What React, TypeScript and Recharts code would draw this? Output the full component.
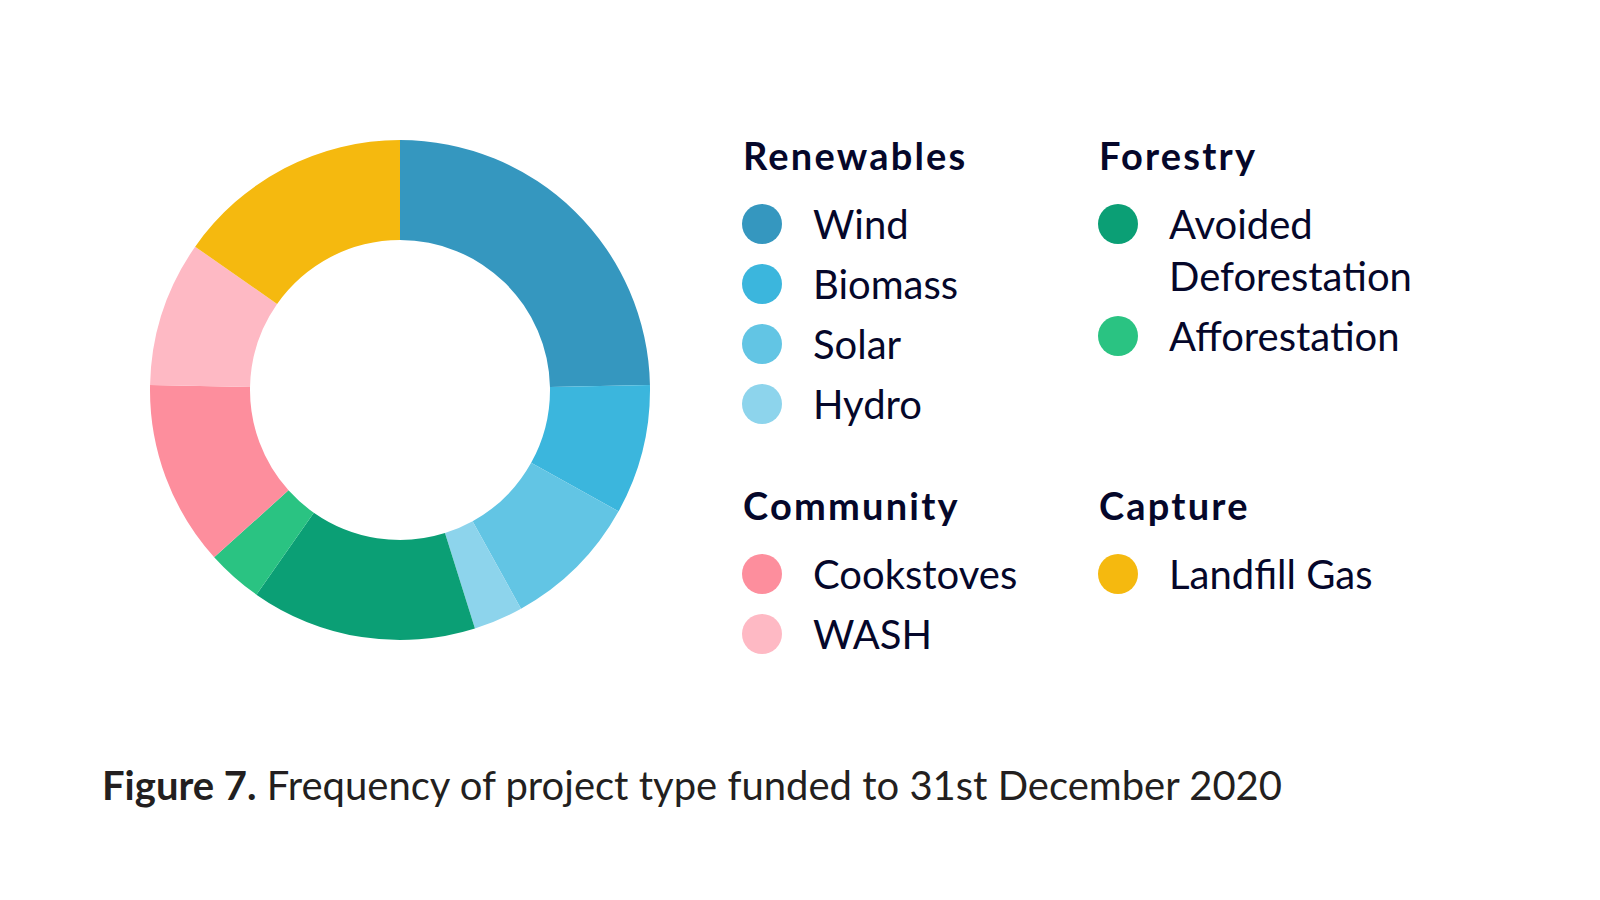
import React from 'react';
import { PieChart, Pie, Cell } from 'recharts';

const categories = ['Wind', 'Biomass', 'Solar', 'Hydro', 'Avoided Deforestation', 'Afforestation', 'Cookstoves', 'WASH', 'Landfill Gas'];
const values = [24.7, 8.4, 8.9, 3.2, 14.6, 3.6, 12.0, 9.4, 15.3];
const groupOf = ['Renewables', 'Renewables', 'Renewables', 'Renewables', 'Forestry', 'Forestry', 'Community', 'Community', 'Capture'];
const colors = ['#3597bf', '#3bb6dd', '#62c5e4', '#8dd4ec', '#0b9f75', '#2ac382', '#fd8e9d', '#feb9c4', '#f5b90f'];
const groupNames = ['Renewables', 'Forestry', 'Community', 'Capture'];
const caption = ['Figure 7.', ' Frequency of project type funded to 31st December 2020'];

const data = categories.map((name, i) => ({ name, value: values[i], group: groupOf[i], color: colors[i] }));

const FONT = 'Lato, "Noto Sans", sans-serif';
const INK = '#05072a';

const groupPos: Record<string, { x: number; y: number }> = {
  Renewables: { x: 743, y: 170 },
  Forestry: { x: 1099, y: 170 },
  Community: { x: 743, y: 520 },
  Capture: { x: 1099, y: 520 },
};

function splitLabel(label: string): string[] {
  if (label.length > 14) return label.split(' ');
  return [label];
}

function LegendOverlay() {
  const out: React.ReactNode[] = [];
  groupNames.forEach((g) => {
    const p = groupPos[g];
    out.push(
      <text key={'h' + g} x={p.x} y={p.y} fontFamily={FONT} fontWeight={700} fontSize={38} letterSpacing={2.2} fill={INK}>
        {g}
      </text>
    );
    let baseline = p.y + 69;
    data.filter((d) => d.group === g).forEach((d) => {
      const lines = splitLabel(d.name);
      out.push(<circle key={'c' + d.name} cx={p.x + 19} cy={baseline - 15} r={20} fill={d.color} />);
      lines.forEach((ln, li) => {
        out.push(
          <text key={'t' + d.name + li} x={p.x + 70} y={baseline + li * 52} fontFamily={FONT} fontSize={40} fill={INK}>
            {ln}
          </text>
        );
      });
      baseline += 60 + (lines.length - 1) * 52;
    });
  });
  return (
    <svg width={1600} height={900} style={{ position: 'absolute', left: 0, top: 0, pointerEvents: 'none' }}>
      {out}
      <text x={102} y={800} fontFamily={FONT} fontSize={40} fill="#231f20">
        <tspan fontWeight={700}>{caption[0]}</tspan>
        <tspan>{caption[1]}</tspan>
      </text>
    </svg>
  );
}

export default function App() {
  return (
    <div style={{ position: 'absolute', left: 0, top: 0, width: 1600, height: 900, background: '#fff' }}>
      <PieChart width={1600} height={900} margin={{ top: 0, right: 0, bottom: 0, left: 0 }}>
        <Pie
          data={data}
          dataKey="value"
          nameKey="name"
          cx={400}
          cy={390}
          innerRadius={150}
          outerRadius={250}
          startAngle={90}
          endAngle={-270}
          stroke="none"
          isAnimationActive={false}
        >
          {data.map((d) => (
            <Cell key={d.name} fill={d.color} />
          ))}
        </Pie>
      </PieChart>
      <LegendOverlay />
    </div>
  );
}
